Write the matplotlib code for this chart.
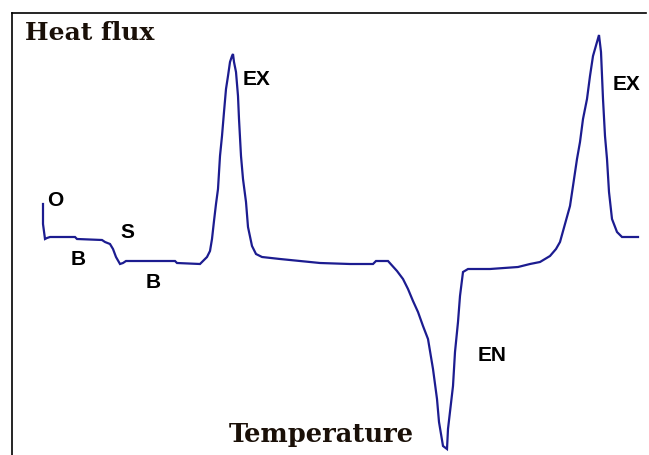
import matplotlib
matplotlib.use("Agg")
import matplotlib.pyplot as plt

# curve (x = temperature axis, y = heat flux, screen units, y grows downward)
temp = [43, 43, 45, 47, 50, 75, 77, 102, 105, 110, 113, 116, 120, 123, 126, 175, 177, 200,
        203, 207, 210, 212, 214, 216, 218, 220, 222, 224, 226, 228, 230, 232, 233, 234, 236,
        238, 239, 241, 243, 246, 248, 252, 256, 262, 280, 290, 300, 320, 350, 373, 376, 388,
        397, 403, 408, 413, 418, 423, 428, 433, 437, 439, 443, 447, 448, 453, 455, 458, 460,
        463, 468, 490, 518, 530, 540, 550, 556, 560, 565, 570, 573, 577, 580, 583, 587, 590,
        593, 597, 599, 601, 603, 605, 607, 609, 612, 617, 622, 638]
flux = [205, 225, 240, 239, 238, 238, 240, 241, 243, 245, 250, 258, 265, 264, 262, 262, 264, 265,
        262, 258, 252, 240, 222, 205, 190, 157, 137, 113, 90, 77, 63, 57, 55, 63, 73,
        97, 120, 157, 180, 203, 228, 247, 255, 258, 260, 261, 262, 264, 265, 265, 262, 262,
        272, 280, 290, 302, 313, 327, 340, 370, 400, 423, 447, 450, 430, 387, 353, 323, 297,
        273, 270, 270, 268, 265, 263, 257, 250, 243, 225, 207, 187, 160, 143, 120, 100, 77,
        57, 43, 36, 53, 100, 137, 160, 193, 220, 233, 238, 238]

labels = ["O", "B", "S", "B", "EX", "EX", "EN"]
label_x = [55, 78, 127, 153, 257, 626, 492]
label_y = [201, 260, 233, 283, 80, 85, 356]

fig = plt.figure(figsize=(6.49, 4.56), dpi=100)
left, top, right = 12, 14, 646
ax = fig.add_axes([left / 649, 0, (right - left) / 649, (456 - top) / 456])
ax.set_xlim(left, right)
ax.set_ylim(456, top)
ax.plot(temp, flux, color="#1c1c90", lw=1.6, solid_joinstyle="miter")

for s in ["bottom", "right"]:
    ax.spines[s].set_visible(False)
for s in ["top", "left"]:
    ax.spines[s].set_linewidth(1.2)
ax.set_xticks([])
ax.set_yticks([])

for t, x, y in zip(labels, label_x, label_y):
    ax.text(x, y, t, ha="center", va="center", fontsize=15, family="Liberation Sans",
            fontweight="bold")

ax.text(25, 33, "Heat flux", ha="left", va="center", fontsize=18, family="DejaVu Serif",
        fontweight="bold", color="#1a1008")
ax.text(321, 435, "Temperature", ha="center", va="center", fontsize=18.5, family="DejaVu Serif",
        fontweight="bold", color="#1a1008")

fig.savefig("out.png", dpi=100)
